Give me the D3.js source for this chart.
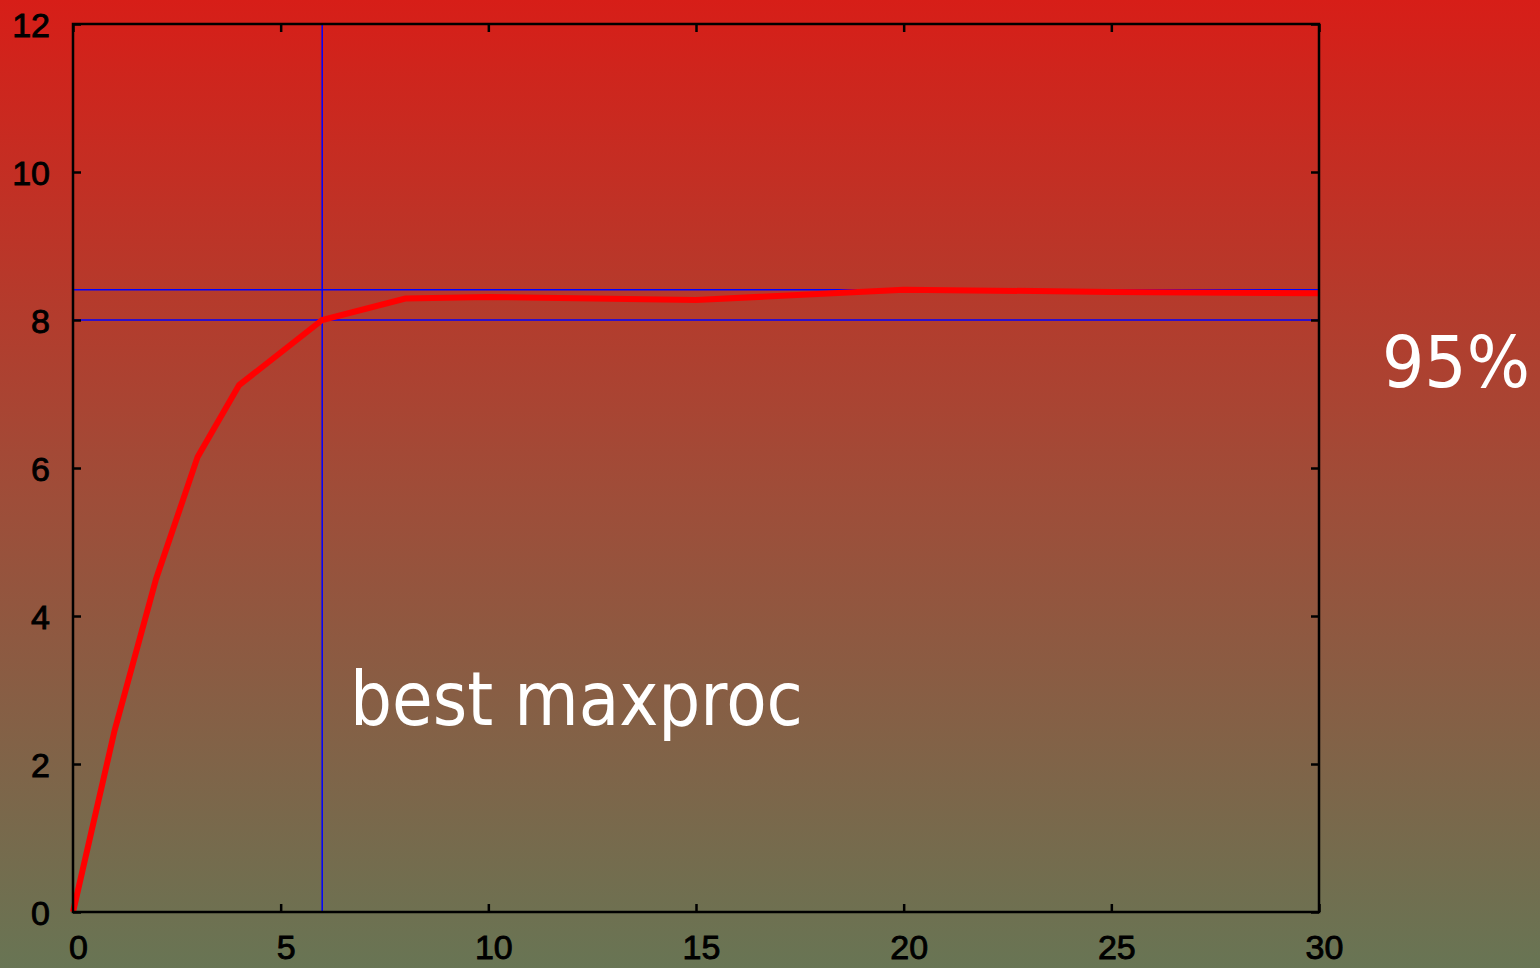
<!DOCTYPE html>
<html>
<head>
<meta charset="utf-8">
<script src="https://cdn.jsdelivr.net/npm/d3@7"></script>
<style>
    html, body { margin: 0; padding: 0; overflow: hidden; }
    svg { display: block; }
    .tick text { font-family: "Liberation Sans", Arial, sans-serif; font-size: 34px; fill: black; stroke: black; stroke-width: 0.9; }
    .note { font-family: "DejaVu Sans", sans-serif; fill: white; }
</style>
</head>
<body>
<div id="viz"></div>
<script>
const width = 1540;
const height = 968;

// speedup vs maxproc
const procs = [0, 1, 2, 3, 4, 6, 8, 10, 15, 20, 25, 30];
const speedup = [0, 2.45, 4.5, 6.15, 7.12, 8.0, 8.29, 8.31, 8.27, 8.41, 8.38, 8.36];
const xTicks = [0, 5, 10, 15, 20, 25, 30];
const yTicks = [0, 2, 4, 6, 8, 10, 12];
const bestProc = 6;
const bestLevel = 8.0;   // 95% of the plateau
const plateau = 8.41;

const svg = d3.select("#viz")
    .append("svg")
    .attr("width", width)
    .attr("height", height);

const defs = svg.append("defs");
const grad = defs.append("linearGradient")
    .attr("id", "bg")
    .attr("x1", 0).attr("y1", 0)
    .attr("x2", 0).attr("y2", 1);
grad.append("stop").attr("offset", "0%").attr("stop-color", "rgb(215,30,24)");
grad.append("stop").attr("offset", "50%").attr("stop-color", "rgb(160,76,56)");
grad.append("stop").attr("offset", "100%").attr("stop-color", "rgb(104,117,84)");

svg.append("rect")
    .attr("width", width)
    .attr("height", height)
    .attr("fill", "url(#bg)");

const margin = {top: 24, right: 221, left: 73, bottom: 56};
const innerWidth = width - margin.left - margin.right;
const innerHeight = height - margin.top - margin.bottom;

const xScale = d3.scaleLinear().domain([0, 30]).range([0, innerWidth]);
const yScale = d3.scaleLinear().domain([0, 12]).range([innerHeight, 0]);

const g = svg.append("g")
    .attr("transform", `translate(${margin.left}, ${margin.top})`);

// reference lines
g.append("line")
    .attr("x1", 0).attr("x2", innerWidth)
    .attr("y1", yScale(plateau)).attr("y2", yScale(plateau))
    .attr("stroke", "#0000ff").attr("stroke-width", 1.5);
g.append("line")
    .attr("x1", 0).attr("x2", innerWidth)
    .attr("y1", yScale(bestLevel)).attr("y2", yScale(bestLevel))
    .attr("stroke", "#0000ff").attr("stroke-width", 1.5);
g.append("line")
    .attr("x1", xScale(bestProc)).attr("x2", xScale(bestProc))
    .attr("y1", 0).attr("y2", innerHeight)
    .attr("stroke", "#0000ff").attr("stroke-width", 1.5);

// axes with inward ticks
const xAxisG = g.append("g")
    .attr("transform", `translate(0, ${innerHeight})`)
    .call(d3.axisBottom(xScale).tickValues(xTicks).tickSize(-8));
xAxisG.selectAll("text").attr("y", 47).attr("dy", 0).attr("x", 5);

const topAxisG = g.append("g")
    .call(d3.axisTop(xScale).tickValues(xTicks).tickSize(-8));
topAxisG.selectAll("text").remove();

const yAxisG = g.append("g")
    .call(d3.axisLeft(yScale).tickValues(yTicks).tickSize(-8));
yAxisG.selectAll("text").attr("x", -23).attr("dy", "0.36em");

const rightAxisG = g.append("g")
    .attr("transform", `translate(${innerWidth}, 0)`)
    .call(d3.axisRight(yScale).tickValues(yTicks).tickSize(-8));
rightAxisG.selectAll("text").remove();

g.selectAll(".domain").remove();
g.selectAll(".tick line").attr("stroke", "black").attr("stroke-width", 2.5);

// speedup curve
const line = d3.line()
    .x((d, i) => xScale(procs[i]))
    .y(d => yScale(d));

g.append("path")
    .datum(speedup)
    .attr("fill", "none")
    .attr("stroke", "#ff0000")
    .attr("stroke-width", 6)
    .attr("stroke-linejoin", "miter")
    .attr("d", line);

// frame
g.append("rect")
    .attr("width", innerWidth)
    .attr("height", innerHeight)
    .attr("fill", "none")
    .attr("stroke", "black")
    .attr("stroke-width", 2.5);

// annotations
svg.append("text")
    .attr("class", "note")
    .attr("x", 350)
    .attr("y", 725)
    .attr("font-size", 74)
    .attr("textLength", 453)
    .attr("lengthAdjust", "spacingAndGlyphs")
    .text("best maxproc");

svg.append("text")
    .attr("class", "note")
    .attr("x", 1382)
    .attr("y", 387)
    .attr("font-size", 71)
    .attr("textLength", 148)
    .attr("lengthAdjust", "spacingAndGlyphs")
    .text("95%");
</script>
</body>
</html>
